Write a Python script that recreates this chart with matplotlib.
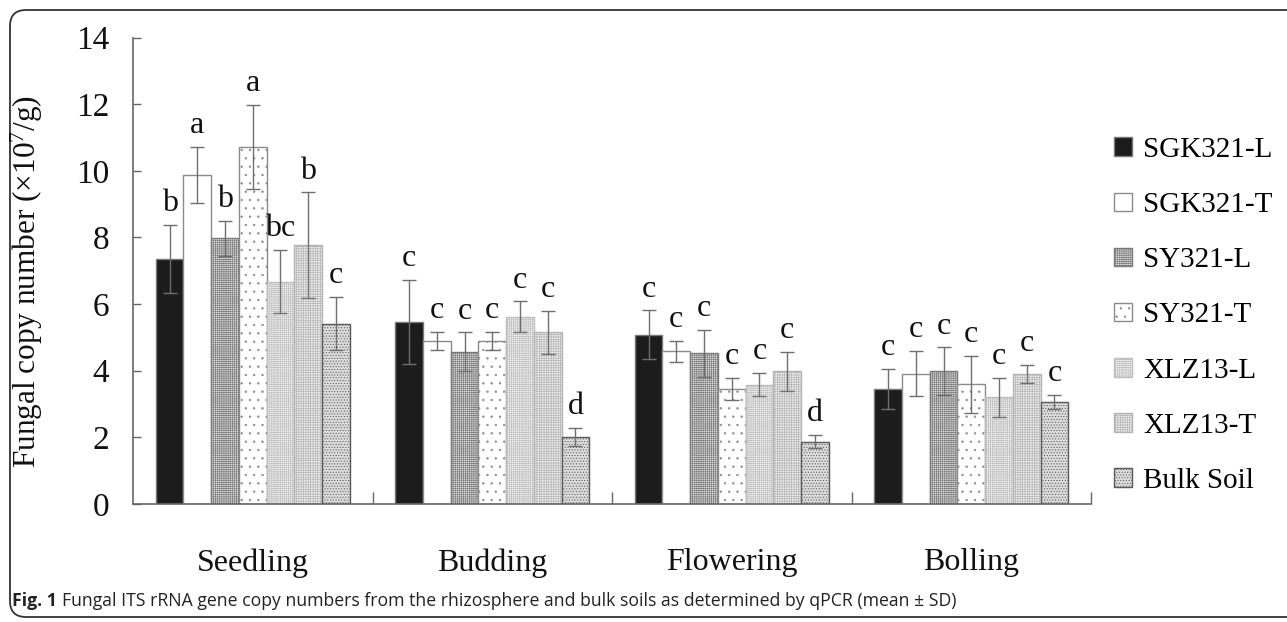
import numpy as np
import matplotlib
matplotlib.use("Agg")
import matplotlib.pyplot as plt
from matplotlib.patches import FancyBboxPatch

plt.rcParams['font.family'] = ['Liberation Serif', 'DejaVu Serif']
plt.rcParams['mathtext.fontset'] = 'custom'
plt.rcParams['mathtext.rm'] = 'Liberation Serif'
plt.rcParams['mathtext.default'] = 'regular'
plt.rcParams['hatch.linewidth'] = 0.45

# ---- data -------------------------------------------------------------
stages = ['Seedling', 'Budding', 'Flowering', 'Bolling']
treatments = ['SGK321-L', 'SGK321-T', 'SY321-L', 'SY321-T',
              'XLZ13-L', 'XLZ13-T', 'Bulk Soil']

sgk321_l = [7.35, 5.46, 5.08, 3.44]
sgk321_t = [9.87, 4.90, 4.58, 3.91]
sy321_l = [7.97, 4.57, 4.52, 3.98]
sy321_t = [10.72, 4.90, 3.45, 3.59]
xlz13_l = [6.67, 5.62, 3.58, 3.20]
xlz13_t = [7.77, 5.15, 3.98, 3.90]
bulk_soil = [5.41, 2.01, 1.87, 3.05]

sd_sgk321_l = [1.02, 1.27, 0.73, 0.60]
sd_sgk321_t = [0.85, 0.27, 0.32, 0.68]
sd_sy321_l = [0.52, 0.58, 0.70, 0.72]
sd_sy321_t = [1.26, 0.27, 0.33, 0.85]
sd_xlz13_l = [0.95, 0.46, 0.34, 0.58]
sd_xlz13_t = [1.58, 0.65, 0.59, 0.28]
sd_bulk_soil = [0.80, 0.27, 0.20, 0.21]

# significance letters, one list per stage
letters_seedling = ['b', 'a', 'b', 'a', 'bc', 'b', 'c']
letters_budding = ['c', 'c', 'c', 'c', 'c', 'c', 'd']
letters_flowering = ['c', 'c', 'c', 'c', 'c', 'c', 'd']
letters_bolling = ['c', 'c', 'c', 'c', 'c', 'c', 'c']

y_ticks = [0, 2, 4, 6, 8, 10, 12, 14]

means = [sgk321_l, sgk321_t, sy321_l, sy321_t, xlz13_l, xlz13_t, bulk_soil]
sds = [sd_sgk321_l, sd_sgk321_t, sd_sy321_l, sd_sy321_t,
       sd_xlz13_l, sd_xlz13_t, sd_bulk_soil]
letters = [letters_seedling, letters_budding, letters_flowering, letters_bolling]

# fill style per treatment: (face, edge/hatch colour, hatch)
styles = [
    ('#1c1c1c', '#777777', None),
    ('#ffffff', '#8a8a8a', None),
    ('#e0e0e0', '#7a7a7a', '++++++++'),
    ('#ffffff', '#8a8a8a', '..'),
    ('#f6f6f6', '#bdbdbd', '++++++++'),
    ('#ededed', '#b3b3b3', '+++++++'),
    ('#dcdcdc', '#5a5a5a', '......'),
]

# ---- figure -----------------------------------------------------------
W, H, DPI = 1287, 622, 100
fig = plt.figure(figsize=(W / DPI, H / DPI), dpi=DPI)
ax = fig.add_axes([133 / W, 1 - 504 / H, (1091 - 133) / W, (504 - 37.5) / H])

x = np.arange(len(stages))
n = len(treatments)
width = 0.81 / n
handles = []
for i, (m, s) in enumerate(zip(means, sds)):
    face, edge, hatch = styles[i]
    pos = x + (i - (n - 1) / 2) * width
    b = ax.bar(pos, m, width, color=face, edgecolor=edge, hatch=hatch,
               linewidth=1.0, label=treatments[i], zorder=2)
    handles.append(b)
    ax.errorbar(pos, m, yerr=s, fmt='none', ecolor='#6e6e6e',
                elinewidth=1.0, capsize=5, capthick=1.0, zorder=3)
    for j in range(len(stages)):
        ax.annotate(letters[j][i], xy=(pos[j], m[j] + s[j]),
                    xytext=(0, 10), textcoords='offset points',
                    ha='center', va='baseline', fontsize=23, color='#111111')

ax.set_xlim(-0.5, 3.5)
ax.set_ylim(0, 14)
ax.set_yticks(y_ticks)
ax.set_xticks(x)
ax.set_xticklabels(stages)
ax.set_xticks(np.arange(0.5, 4.0, 1.0), minor=True)

for side in ('top', 'right'):
    ax.spines[side].set_visible(False)
for side in ('left', 'bottom'):
    ax.spines[side].set_color('#666666')
    ax.spines[side].set_linewidth(1.2)

ax.tick_params(axis='y', direction='in', length=6, width=1.0, color='#666666',
               labelsize=24, pad=17, labelcolor='#111111')
ax.tick_params(axis='x', which='major', length=0, labelsize=23, pad=32,
               labelcolor='#111111')
ax.tick_params(axis='x', which='minor', direction='in', length=9, width=1.0,
               color='#666666')

fig.text(27 / W, 1 - 281 / H, 'Fungal copy number (×10$^{7}$/g)',
         rotation=90, ha='center', va='center', fontsize=22.5, color='#111111')

fig.legend(handles=handles, labels=treatments, loc='upper left',
           bbox_to_anchor=(1114 / W, 1 - 137 / H), frameon=False,
           fontsize=21, handlelength=0.6, handleheight=0.6,
           handletextpad=0.4, labelspacing=1.0, borderpad=0,
           borderaxespad=0)

# caption
cap_family = ['Open Sans', 'DejaVu Sans']
t1 = fig.text(12 / W, 1 - 606 / H, 'Fig. 1', fontsize=12.7, weight='bold',
              family=cap_family, color='#222222', va='baseline')
ax.annotate('Fungal ITS rRNA gene copy numbers from the rhizosphere and bulk '
            'soils as determined by qPCR (mean ± SD)',
            xy=(1, 0), xycoords=t1, xytext=(4, 0), textcoords='offset points',
            fontsize=12.7, family=cap_family, color='#222222', va='bottom',
            ha='left', annotation_clip=False)

# rounded frame around the panel
frame = FancyBboxPatch((10 / DPI, 5 / DPI), 14.0, (612 - 5) / DPI,
                       boxstyle='round,pad=0,rounding_size=0.16',
                       transform=fig.dpi_scale_trans, fill=False,
                       edgecolor='#333333', linewidth=1.3)
fig.patches.append(frame)

fig.savefig('out.png', dpi=DPI)
